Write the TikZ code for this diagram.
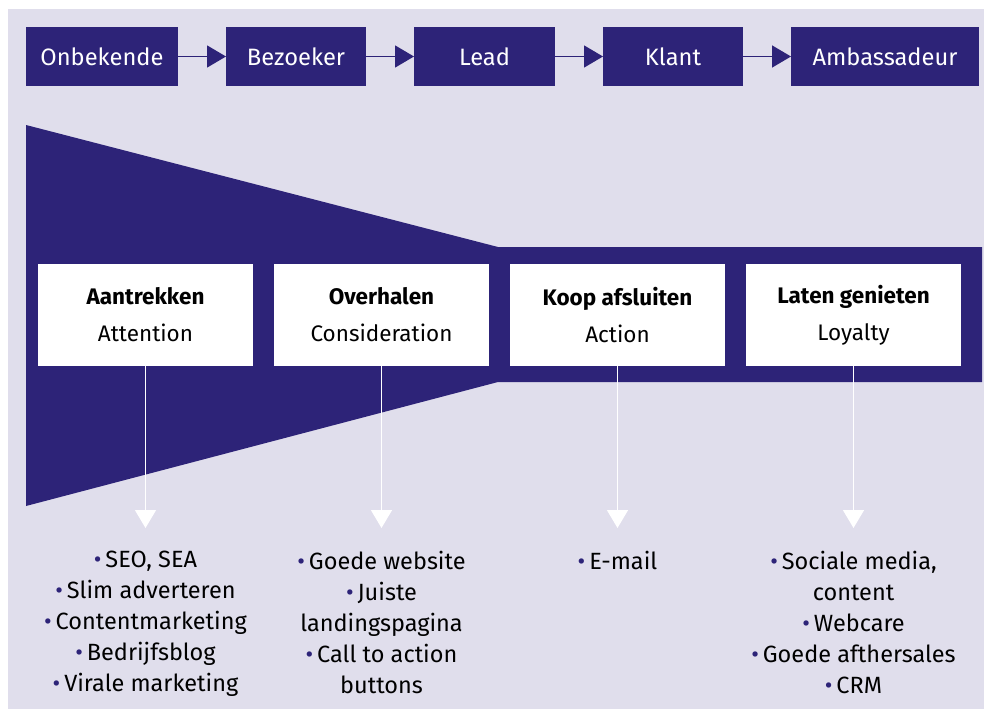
\documentclass[tikz,border=0pt]{standalone}
\usepackage{fontspec}
\setmainfont{Fira Sans}
\usetikzlibrary{positioning,arrows.meta}
\definecolor{navy}{RGB}{45,35,120}
\definecolor{lavender}{RGB}{224,222,236}
\newcommand{\itm}{{\color{navy}•}\,}

\begin{document}
\begin{tikzpicture}[x=1pt,y=-1pt,node distance=48pt,
  stage/.style={fill=navy,text=white,inner sep=0pt,outer sep=0pt,minimum height=59pt,font=\fontsize{23.7}{27}\selectfont},
  phase/.style={fill=white,inner sep=0pt,outer sep=0pt,minimum width=215pt,minimum height=102pt,align=center,font=\fontsize{22.5}{37}\selectfont},
  items/.style={align=center,inner sep=0pt,font=\fontsize{23.5}{31}\selectfont},
  flow/.style={navy,line width=1.5pt,-{Triangle[length=19pt,width=22pt]}},
  down/.style={white,line width=1.5pt,-{Triangle[length=18pt,width=21pt]}}]
\useasboundingbox (0,0) rectangle (984,709);
\fill[lavender] (8,9) rectangle (984,709);

% customer journey
\node[stage,minimum width=152pt,anchor=west] (onbekende) at (26,56.5) {Onbekende};
\node[stage,minimum width=140pt] (bezoeker) [right=of onbekende] {Bezoeker};
\node[stage,minimum width=141pt] (lead) [right=of bezoeker] {Lead};
\node[stage,minimum width=140pt] (klant) [right=of lead] {Klant};
\node[stage,minimum width=188pt] (ambassadeur) [right=of klant] {Ambassadeur};
\path[flow]
(onbekende) edge (bezoeker)
(bezoeker) edge (lead)
(lead) edge (klant)
(klant) edge (ambassadeur);

% funnel
\fill[navy] (26,125) -- (498,247) -- (982,247) -- (982,382) -- (498,382) -- (26,506) -- cycle;

\node[phase,anchor=west] (aantrekken) at (38,315) {\textbf{Aantrekken}\\Attention};
\node[phase] (overhalen) [right=21pt of aantrekken] {\textbf{Overhalen}\\Consideration};
\node[phase] (koop) [right=21pt of overhalen] {\textbf{Koop afsluiten}\\Action};
\node[phase] (genieten) [right=21pt of koop] {\textbf{Laten genieten}\\Loyalty};

\coordinate (a1) at (aantrekken.south |- 0,528);
\coordinate (a2) at (overhalen.south |- 0,528);
\coordinate (a3) at (koop.south |- 0,528);
\coordinate (a4) at (genieten.south |- 0,528);
\draw[down] (aantrekken.south) -- (a1);
\draw[down] (overhalen.south) -- (a2);
\draw[down] (koop.south) -- (a3);
\draw[down] (genieten.south) -- (a4);

% middelen per fase
\node[items,below=23pt of a1] (l1) {\itm SEO, SEA\\\itm Slim adverteren\\\itm Contentmarketing\\\itm Bedrijfsblog\\\itm Virale marketing};
\node[items,below=23pt of a2] (l2) {\itm Goede website\\\itm Juiste\\landingspagina\\\itm Call to action\\buttons};
\node[items,below=23pt of a3] (l3) {\itm E-mail};
\node[items,below=23pt of a4] (l4) {\itm Sociale media,\\content\\\itm Webcare\\\itm Goede afthersales\\\itm CRM};
\end{tikzpicture}
\end{document}
